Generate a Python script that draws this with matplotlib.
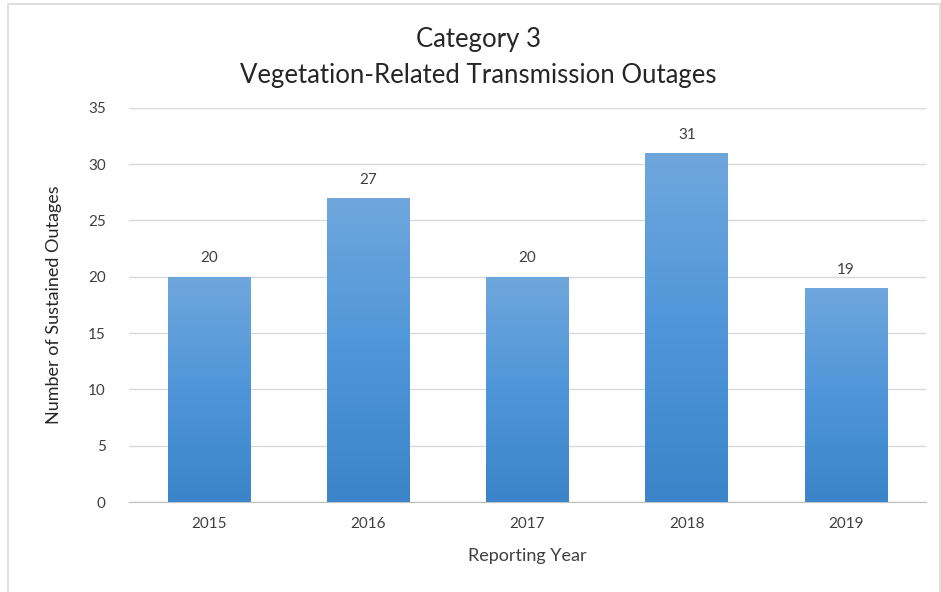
import numpy as np
import matplotlib.pyplot as plt
from matplotlib.patches import Rectangle
from matplotlib.colors import LinearSegmentedColormap

# data
years = ["2015", "2016", "2017", "2018", "2019"]
outages = [20, 27, 20, 31, 19]
yticks = [0, 5, 10, 15, 20, 25, 30, 35]

plt.rcParams['font.family'] = ['Lato', 'DejaVu Sans']

fig = plt.figure(figsize=(9.41, 5.92), dpi=100)
ax = fig.add_axes([0.1376, 0.152, 0.846, 0.666])

# light frame round the chart, like the office export
fig.patches.append(Rectangle((0.009, -0.01), 0.99, 1.003, transform=fig.transFigure,
                             fill=False, edgecolor="#d9d9d9", linewidth=1.2))

x = np.arange(len(years))
bars = ax.bar(x, outages, width=0.52, color="#5b9bd5", zorder=2)

# vertical gradient inside each bar, lighter at the top
grad = np.linspace(0, 1, 256).reshape(-1, 1)
cmap = LinearSegmentedColormap.from_list("bar", ["#3b84c9", "#4f96d9", "#6fa7dd"])
for b in bars:
    x0, w, h = b.get_x(), b.get_width(), b.get_height()
    im = ax.imshow(grad, cmap=cmap, aspect="auto", origin="lower",
                   extent=[x0, x0 + w, 0, h], zorder=3)
    im.set_clip_path(b)

for xi, v in zip(x, outages):
    ax.text(xi, v + 1.0, str(v), ha="center", va="bottom", fontsize=11, color="#404040")

ax.set_xlim(-0.5, len(years) - 0.5)
ax.set_ylim(0, 35)
ax.set_yticks(yticks)
ax.set_xticks(x)
ax.set_xticklabels(years)
ax.tick_params(length=0, labelsize=11, colors="#404040")
ax.tick_params(axis="y", pad=17)
ax.tick_params(axis="x", pad=11)
ax.grid(axis="y", color="#d9d9d9", linewidth=1, zorder=0)
for s in ["top", "right", "left"]:
    ax.spines[s].set_visible(False)
ax.spines["bottom"].set_color("#bfbfbf")
ax.spines["bottom"].set_zorder(4)

ax.set_xlabel("Reporting Year", fontsize=13, color="#404040", labelpad=12)
ax.set_ylabel("Number of Sustained Outages", fontsize=13, color="#262626", labelpad=19)

fig.text(0.508, 0.933, "Category 3", ha="center", va="center", fontsize=18.5, color="#262626")
fig.text(0.508, 0.873, "Vegetation-Related Transmission Outages", ha="center", va="center",
         fontsize=18.5, color="#262626")

fig.savefig("out.png", dpi=100)
